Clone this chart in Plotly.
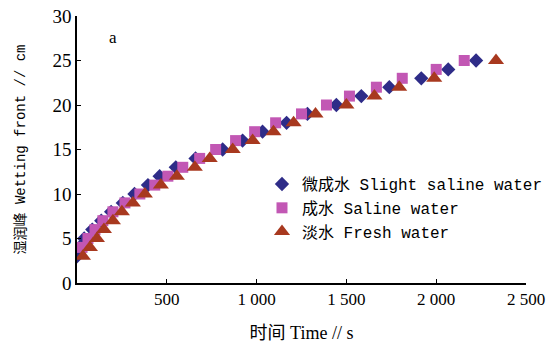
import plotly.graph_objects as go

# Wetting front depth (cm) and elapsed time (s) for each water type
depth_slight = [3, 4, 5, 6, 7, 8, 9, 10, 11, 12, 13, 14, 15, 16, 17, 18, 19, 20, 21, 22, 23, 24, 25]
time_slight = [0, 14, 40, 85, 135, 190, 255, 320, 395, 460, 550, 660, 811, 922, 1033, 1167, 1283, 1444, 1583, 1739, 1917, 2067, 2222]

depth_saline = [4, 5, 6, 7, 8, 9, 10, 11, 12, 13, 14, 15, 16, 17, 18, 19, 20, 21, 22, 23, 24, 25]
time_saline = [28, 61, 100, 144, 200, 267, 350, 433, 506, 589, 683, 772, 883, 989, 1106, 1250, 1389, 1517, 1667, 1811, 2000, 2156]

depth_fresh = [3, 4, 5, 6, 7, 8, 9, 10, 11, 12, 13, 14, 15, 16, 17, 18, 19, 20, 21, 22, 23, 25]
time_fresh = [33, 72, 111, 150, 200, 250, 311, 378, 467, 556, 656, 739, 867, 978, 1094, 1206, 1328, 1500, 1656, 1794, 1989, 2333]

x_tick_vals = [500, 1000, 1500, 2000, 2500]
x_tick_text = ["500", "1 000", "1 500", "2 000", "2 500"]
y_tick_vals = [0, 5, 10, 15, 20, 25, 30]

serif = "Liberation Serif, Noto Sans CJK SC"
mono = "Liberation Mono, Noto Sans CJK SC"

fig = go.Figure()
fig.add_trace(go.Scatter(
    x=time_slight, y=depth_slight, mode="markers", name="微成水 Slight saline water",
    marker=dict(symbol="diamond", size=11, color="#2E2C88"),
))
fig.add_trace(go.Scatter(
    x=time_saline, y=depth_saline, mode="markers", name="成水 Saline water",
    marker=dict(symbol="square", size=11, color="#C257B4"),
))
fig.add_trace(go.Scatter(
    x=time_fresh, y=depth_fresh, mode="markers", name="淡水 Fresh water",
    marker=dict(symbol="triangle-up", size=14, color="#A8391F"),
))

fig.update_layout(
    width=549, height=345,
    margin=dict(l=77, r=23, t=16, b=62, autoexpand=False),
    paper_bgcolor="white", plot_bgcolor="white",
    font=dict(family=serif, size=16, color="black"),
    showlegend=True,
    legend=dict(
        x=0.412, y=0.434, xanchor="left", yanchor="top",
        bgcolor="rgba(0,0,0,0)", font=dict(family=mono, size=16),
        tracegroupgap=0, itemwidth=30,
    ),
    annotations=[dict(
        text="a", xref="paper", yref="paper", x=0.08, y=0.92,
        xanchor="center", yanchor="middle",
        showarrow=False, font=dict(family=serif, size=17),
    )],
)

fig.update_xaxes(
    range=[0, 2500], tickvals=x_tick_vals, ticktext=x_tick_text,
    showline=True, linecolor="black", linewidth=1.5, mirror=False,
    ticks="inside", ticklen=4, tickcolor="black", showgrid=False, zeroline=False,
    tickfont=dict(family=serif, size=17), automargin=False, ticklabeloverflow="allow",
    title=dict(text="时间 Time // s", font=dict(family=serif, size=18), standoff=18),
)
fig.update_yaxes(
    range=[0, 30], tickvals=y_tick_vals,
    showline=True, linecolor="black", linewidth=1.5,
    ticks="inside", ticklen=4, tickcolor="black", showgrid=False, zeroline=False,
    tickfont=dict(family=serif, size=19), automargin=False, ticklabeloverflow="allow",
    title=dict(text="湿润峰 Wetting front // cm\u00a0\u00a0\u00a0", font=dict(family=mono, size=14), standoff=24),
)

fig.write_html(
    "out.html",
    config={"displayModeBar": False},
    post_script="document.body.style.margin='0';document.body.style.overflow='hidden';",
)
